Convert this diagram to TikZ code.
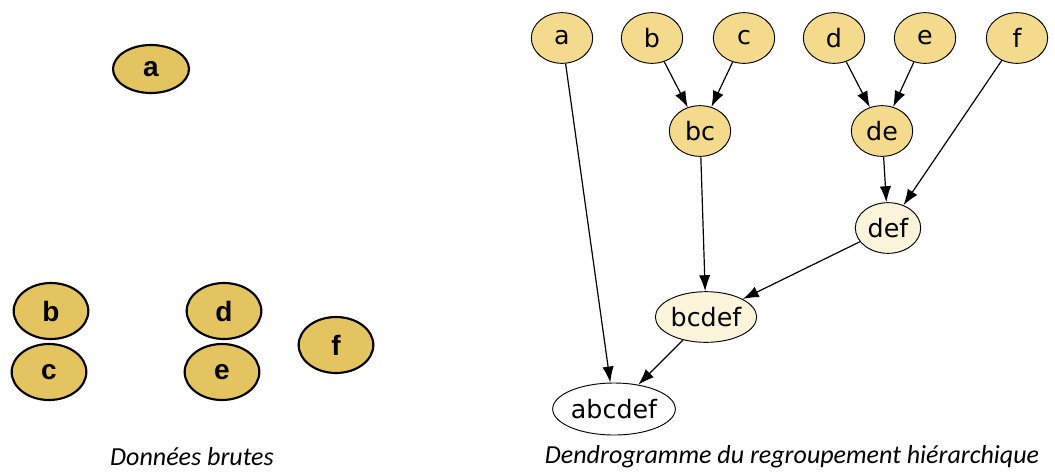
\documentclass[tikz,border=0pt]{standalone}
\usepackage{fontspec}
\setmainfont{Carlito}
\newfontfamily\dotfont{DejaVu Sans}
\newfontfamily\rawfont{Liberation Sans}
\usetikzlibrary{shapes.geometric,arrows.meta}
\definecolor{rawgold}{RGB}{228,196,96}
\definecolor{leafgold}{RGB}{244,218,140}
\definecolor{mergecream}{RGB}{251,243,218}
\begin{document}
\begin{tikzpicture}[x=0.75pt,y=-0.75pt,
    raw/.style={ellipse, draw, line width=1.6pt, fill=rawgold, minimum width=56pt, minimum height=42pt, inner sep=0pt, font=\rawfont\bfseries\fontsize{21}{21}\selectfont},
    leaf/.style={ellipse, draw, line width=0.7pt, fill=leafgold, minimum width=46pt, minimum height=38pt, inner sep=0pt, font=\dotfont\fontsize{19}{19}\selectfont},
    merged/.style={leaf, fill=mergecream},
    link/.style={-{Latex[length=12pt,width=8.5pt]}, line width=0.9pt}]
    \useasboundingbox (0,0) rectangle (1055,472);

    % raw data
    \node[raw, minimum width=57pt, minimum height=36pt] (ra) at (151,69) {a};
    \node[raw] (rb) at (51,311) {b};
    \node[raw] (rc) at (49,372) {c};
    \node[raw] (rd) at (224,311) {d};
    \node[raw] (re) at (222,372) {e};
    \node[raw] (rf) at (336,345) {f};

    % dendrogram leaves
    \node[leaf] (a) at (562,38) {a};
    \node[leaf] (b) at (652,38) {b};
    \node[leaf] (c) at (744,38) {c};
    \node[leaf] (d) at (834,38) {d};
    \node[leaf] (e) at (925,38) {e};
    \node[leaf] (f) at (1017,38) {f};

    % merges
    \node[leaf] (bc) at (700,131) {bc};
    \node[leaf] (de) at (882,131) {de};
    \node[merged, minimum width=49pt] (def) at (888,228) {def};
    \node[merged, minimum width=76pt] (bcdef) at (706,317) {bcdef};
    \node[merged, fill=white, minimum width=92pt, minimum height=39pt] (abcdef) at (614,409) {abcdef};

    \draw[link] (b) -- (bc);
    \draw[link] (c) -- (bc);
    \draw[link] (d) -- (de);
    \draw[link] (e) -- (de);
    \draw[link] (de) -- (def);
    \draw[link] (f) -- (def);
    \draw[link] (bc) -- (bcdef);
    \draw[link] (def) -- (bcdef);
    \draw[link] (bcdef) -- (abcdef);
    \draw[link] (a) -- (abcdef);

    % captions
    \node[font=\itshape\fontsize{19.5}{19.5}\selectfont] (cap1) at (192,457) {Données brutes};
    \node[font=\itshape\fontsize{19.5}{19.5}\selectfont] (cap2) at (792,457) {Dendrogramme du regroupement hiérarchique};
\end{tikzpicture}
\end{document}
